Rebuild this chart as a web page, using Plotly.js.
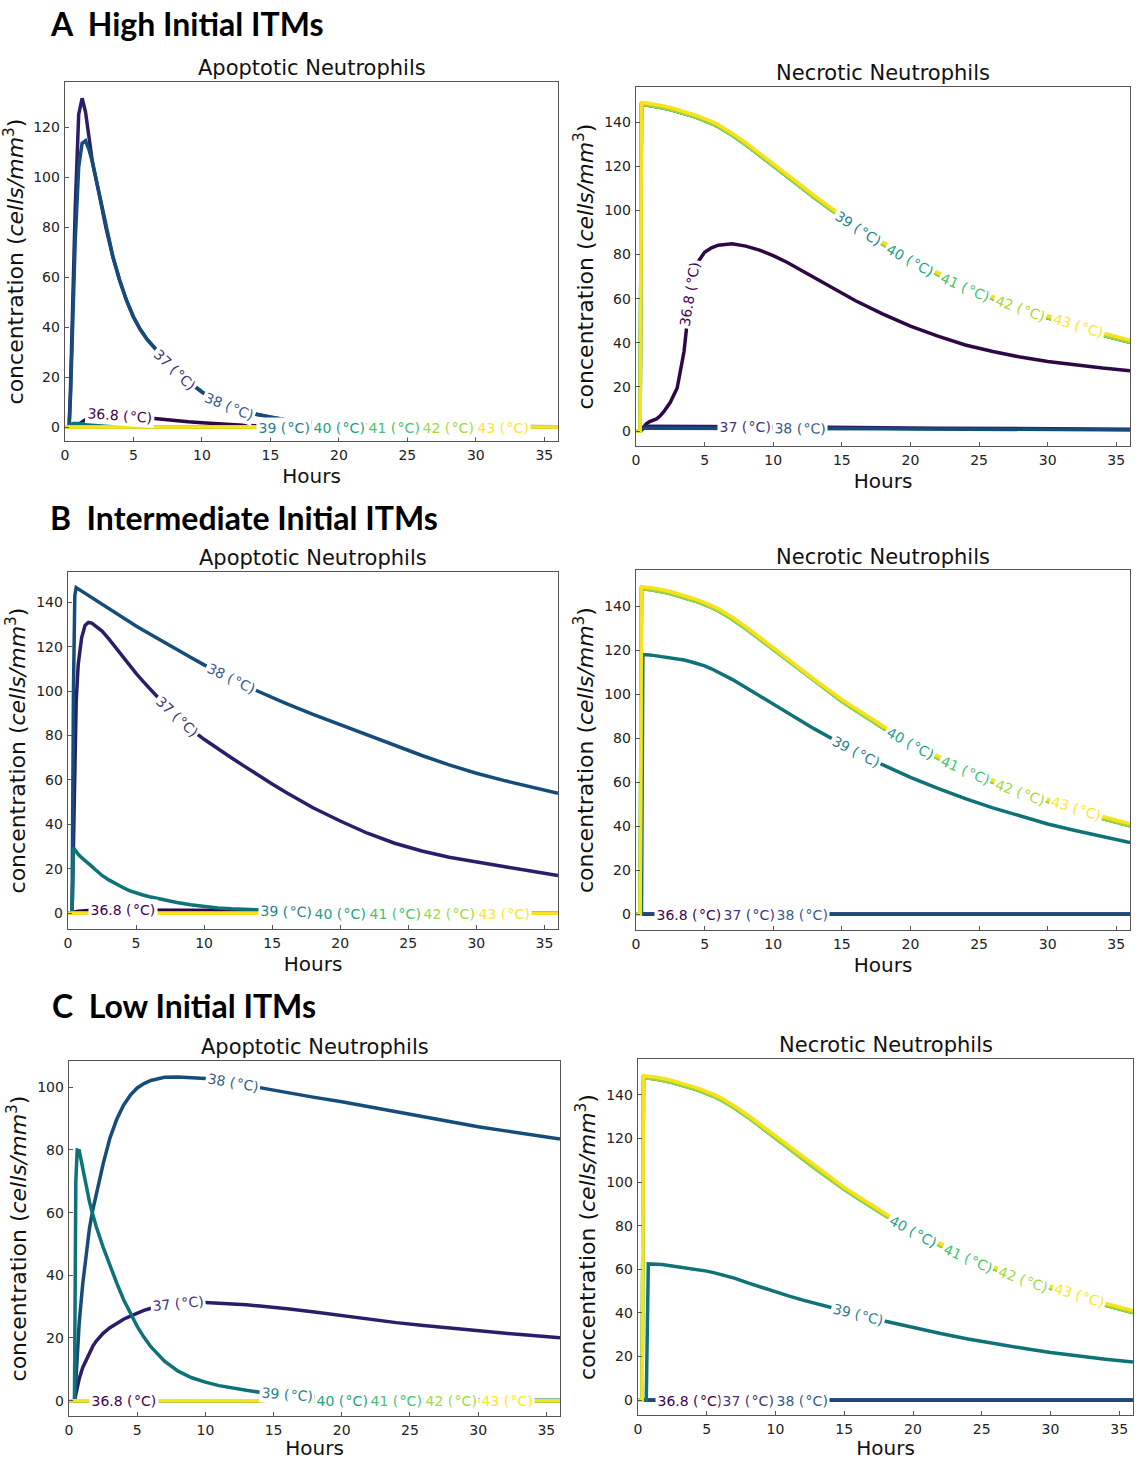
<!DOCTYPE html>
<html>
<head>
<meta charset="utf-8">
<script src="https://cdn.plot.ly/plotly-3.0.1.min.js"></script>
<style>html,body{margin:0;padding:0;background:#fff}</style>
</head>
<body>
<div id="chart" style="width:1141px;height:1460px"></div>
<script>
// ---------------- DATA ----------------
const hours = [0, 0.3, 0.4, 0.5, 0.6, 0.75, 1, 1.25, 1.5, 1.75, 2, 2.5, 3, 3.5, 4, 4.5, 5, 5.5, 6, 7, 8, 9, 10, 11, 12, 13, 14, 15, 16, 18, 20, 22, 24, 26, 28, 30, 32, 34, 36];
const temps = ['36.8', '37', '38', '39', '40', '41', '42', '43'];

const flatZero = [0,0,0,0,0,0,0,0,0,0, 0,0,0,0,0,0,0,0,0, 0,0,0,0,0,0,0,0,0,0, 0,0,0,0,0,0,0,0,0,0];

// A: High initial ITMs - apoptotic
const highApo_368 = [0,0,0,0,0,0.5,1,2,3,3.8, 4.5,5,5,4.9,4.7,4.5,4.2,3.9,3.6, 3.1,2.6,2.1,1.7,1.3,1,0.7,0.5,0.4,0.3, 0.2,0.1,0.1,0.1,0.1,0.1,0.1,0.1,0.1,0.1];
const highApo_37  = [0,0,15,35,55,88,125,131.5,126,116, 106,93,79.5,68,58.5,50.5,44,39,35, 28.8,23.2,18.2,14,10.8,8.3,6.4,5,3.9,3, 1.8,1.1,0.7,0.5,0.3,0.2,0.2,0.1,0.1,0.1];
const highApo_38  = [0,0,12,30,48,75,104,113.5,114.5,111, 106,93,79.5,68,58.5,50.5,44,39,35, 28.8,23.2,18.2,14,10.8,8.3,6.4,5,3.9,3, 1.8,1.1,0.7,0.5,0.3,0.2,0.2,0.1,0.1,0.1];
const highApo_39  = [0,0,1,1.3,1.4,1.4,1.4,1.4,1.4,1.4, 1.4,1.3,1.3,1.2,1.2,0.8,0.4,0.2,0.1, 0,0,0,0,0,0,0,0,0,0, 0,0,0,0,0,0,0,0,0,0];
const highApo_40to43 = flatZero;

// A: High initial ITMs - necrotic
const highNec_368 = [0,0,0.5,1.5,2.3,3.3,4.3,4.8,5.5,6.8, 8.5,13,19.5,36,65,76.5,81,83,84.2, 84.8,83.8,82,79.5,76.5,73,69.5,66,62.5,59, 53,47.5,43,39,36,33.5,31.5,29.8,28.5,27.3];
const highNec_37  = [0,0,0.8,1.6,2,2.1,2.1,2.1,2.1,2.1, 2.1,2.1,2.1,2.1,2.1,2.1,2.1,2.1,2.1, 2,2,2,1.9,1.9,1.8,1.8,1.7,1.7,1.6, 1.5,1.4,1.3,1.2,1.1,1,1,0.9,0.9,0.8];
const highNec_38  = [0,0,0.4,0.9,1.2,1.3,1.3,1.3,1.3,1.3, 1.3,1.3,1.3,1.3,1.3,1.3,1.3,1.3,1.3, 1.3,1.3,1.2,1.2,1.2,1.1,1.1,1.1,1,1, 1,0.9,0.9,0.8,0.8,0.7,0.7,0.6,0.6,0.5];
const highNec_39to42 = [0,0,147.9,147.9,147.8,147.7,147.5,147.3,147.1,146.8, 146.4,145.7,144.9,143.9,142.9,141.9,140.8,139.4,137.9, 134.1,129.8,125.1,120.1,115.3,110.6,105.8,101.1,96.7,92.6, 84.6,77.4,70.9,65.1,60,55.4,51.2,47.2,43.5,40.2];
const highNec_43  = [0,0,148.8,148.8,148.7,148.6,148.4,148.2,148,147.7, 147.3,146.6,145.8,144.8,143.8,142.8,141.7,140.3,138.8, 135,130.7,126,121,116.2,111.5,106.7,102,97.6,93.5, 85.5,78.3,71.8,66,60.9,56.3,52.1,48.1,44.4,41.1];

// B: Intermediate initial ITMs - apoptotic
const midApo_368 = [0,0,0.3,0.6,0.8,0.9,1,1.2,1.3,1.4, 1.5,1.5,1.5,1.5,1.5,1.5,1.5,1.5,1.5, 1.5,1.5,1.5,1.5,1.5,1.5,1.4,1.2,1,0.8, 0.5,0.3,0.2,0.2,0.2,0.2,0.1,0.1,0.1,0.1];
const midApo_37  = [0,0,30,70,95,112,124,129.5,130.9,130.6, 129.5,127,123.5,119.5,115.5,111.7,108,104.5,101, 94.5,88.5,83,78.3,74,70,66,62,58.2,54.5, 47.5,41.5,36,31.5,28,25.2,23,21,19,17];
const midApo_38  = [0,0,100,143,146.6,146,145,144,143,142, 141,139,137,135,133,131,129.3,127.5,125.7, 122.2,118.7,115.2,111.8,108.6,105.5,102.6,99.8,97.1,94.5, 89.5,84.8,80,75.3,71,66.8,63,59.8,56.8,54];
const midApo_39  = [0,0,29.5,28.5,27.5,26.5,25,23.8,22.5,21.1, 19.7,17,15,13.2,11.7,10.2,9,8.2,7.4, 6,4.8,3.8,3,2.4,2,1.7,1.4,1.2,1, 0.7,0.5,0.3,0.2,0.2,0.2,0.1,0.1,0.1,0.1];
const midApo_40to43 = flatZero;

// B: Intermediate initial ITMs - necrotic
const midNec_368to38 = flatZero;
const midNec_39  = [0,0,0,118,118,117.9,117.8,117.6,117.4,117.3, 117.1,116.7,116.2,115.5,114.7,113.8,112.8,111.5,110, 106.7,103,99.2,95.3,91.5,87.8,84.2,80.7,77.3,74, 67.8,62.2,57.2,52.5,48.3,44.5,41,38,35.2,32.5];
const midNec_40to42 = [0,0,147.9,147.9,147.8,147.7,147.5,147.3,147.1,146.8, 146.4,145.7,144.9,143.9,142.9,141.9,140.8,139.4,137.9, 134.1,129.8,125.1,120.1,115.3,110.6,105.8,101.1,96.7,92.6, 84.6,77.4,70.9,65.1,60,55.4,51.2,47.2,43.5,40.2];
const midNec_43  = [0,0,148.8,148.8,148.7,148.6,148.4,148.2,148,147.7, 147.3,146.6,145.8,144.8,143.8,142.8,141.7,140.3,138.8, 135,130.7,126,121,116.2,111.5,106.7,102,97.6,93.5, 85.5,78.3,71.8,66,60.9,56.3,52.1,48.1,44.4,41.1];

// C: Low initial ITMs - apoptotic
const lowApo_368 = flatZero;
const lowApo_37  = [0,0,0,2,4,7,10.5,13,15.5,17.4, 19,21.5,23.3,24.8,26,27,28,28.8,29.5, 30.4,31,31.3,31.3,31.1,30.9,30.6,30.2,29.8,29.3, 28.3,27.1,26,24.9,24,23.1,22.3,21.5,20.8,20.1];
const lowApo_38  = [0,0,0,6,14,25,37,46.5,55,61, 66,75.5,83.8,89.8,94.3,97.5,99.8,101.2,102.2, 103.2,103.3,103.1,102.8,102.2,101.5,100.7,99.9,99.1,98.3, 96.8,95.4,93.9,92.2,90.6,89,87.4,86.1,84.8,83.5];
const lowApo_39  = [0,0,0,70,80,79.8,74.5,68.5,63.5,59.3, 55.5,49,43,37.5,32.3,27.8,23.7,20.2,17.2, 12.6,9.4,7.3,5.9,4.8,4,3.3,2.7,2.3,1.9, 1.3,0.9,0.6,0.4,0.3,0.2,0.1,0.1,0.1,0.1];
const lowApo_40to43 = flatZero;

// C: Low initial ITMs - necrotic
const lowNec_368to38 = flatZero;
const lowNec_39  = [0,0,0,0,0,62.5,62.5,62.4,62.3,62.2, 62,61.6,61.2,60.7,60.2,59.7,59.2,58.5,57.8, 56,53.8,51.7,49.6,47.7,45.9,44.2,42.6,40.9,39.3, 36.2,33.3,30.6,28.1,25.8,23.8,21.9,20.2,18.8,17.5];
const lowNec_40to42 = [0,0,147.9,147.9,147.8,147.7,147.5,147.3,147.1,146.8, 146.4,145.7,144.9,143.9,142.9,141.9,140.8,139.4,137.9, 134.1,129.8,125.1,120.1,115.3,110.6,105.8,101.1,96.7,92.6, 84.6,77.4,70.9,65.1,60,55.4,51.2,47.2,43.5,40.2];
const lowNec_43  = [0,0,148.8,148.8,148.7,148.6,148.4,148.2,148,147.7, 147.3,146.6,145.8,144.8,143.8,142.8,141.7,140.3,138.8, 135,130.7,126,121,116.2,111.5,106.7,102,97.6,93.5, 85.5,78.3,71.8,66,60.9,56.3,52.1,48.1,44.4,41.1];

// inline label positions (hours) for the 8 temperatures, per panel
const highApo_labelX = [4.0, 8.0, 12.0, 16.0, 20.0, 24.0, 28.0, 32.0];
const highNec_labelX = [3.95, 7.95, 11.95, 16.2, 20.0, 24.0, 28.0, 32.2];
const midApo_labelX  = [4.05, 8.0, 12.0, 16.0, 20.0, 24.0, 28.0, 32.0];
const midNec_labelX  = [3.85, 8.2, 12.1, 16.0, 20.0, 24.0, 28.0, 32.1];
const lowApo_labelX  = [4.0, 8.0, 12.0, 16.0, 20.0, 24.0, 28.0, 32.1];
const lowNec_labelX  = [3.75, 8.0, 11.9, 16.0, 20.0, 24.0, 28.0, 32.1];

// ---------------- STYLE / LAYOUT ----------------
const lineColors  = ['#2e0845', '#2c1d6b', '#154c7a', '#0f7276', '#1c9c80', '#45bb66', '#9ad535', '#f9e11e'];
const labelColors = ['#440154', '#46337e', '#365c8d', '#277f8e', '#1fa187', '#4ac16d', '#9fda3a', '#fde725'];

const W = 1141, H = 1460;
const FONT = 'DejaVu Sans, Liberation Sans, sans-serif';

const panels = [
  {title: 'Apoptotic Neutrophils', box: [65, 82, 558, 441],   yr: [-5.6, 138],   titleY: 68,
   series: [highApo_368, highApo_37, highApo_38, highApo_39, highApo_40to43, highApo_40to43, highApo_40to43, highApo_40to43], labelX: highApo_labelX},
  {title: 'Necrotic Neutrophils',  box: [636, 87, 1130, 446], yr: [-6.8, 155.9], titleY: 73,
   series: [highNec_368, highNec_37, highNec_38, highNec_39to42, highNec_39to42, highNec_39to42, highNec_39to42, highNec_43], labelX: highNec_labelX},
  {title: 'Apoptotic Neutrophils', box: [68, 572, 558, 929],  yr: [-7.1, 153.6], titleY: 558,
   series: [midApo_368, midApo_37, midApo_38, midApo_39, midApo_40to43, midApo_40to43, midApo_40to43, midApo_40to43], labelX: midApo_labelX},
  {title: 'Necrotic Neutrophils',  box: [636, 570, 1130, 930], yr: [-7.2, 156.4], titleY: 557,
   series: [midNec_368to38, midNec_368to38, midNec_368to38, midNec_39, midNec_40to42, midNec_40to42, midNec_40to42, midNec_43], labelX: midNec_labelX},
  {title: 'Apoptotic Neutrophils', box: [69, 1061, 560, 1416], yr: [-4.9, 108.4], titleY: 1047,
   series: [lowApo_368, lowApo_37, lowApo_38, lowApo_39, lowApo_40to43, lowApo_40to43, lowApo_40to43, lowApo_40to43], labelX: lowApo_labelX},
  {title: 'Necrotic Neutrophils',  box: [638, 1059, 1133, 1415], yr: [-6.8, 156.5], titleY: 1045,
   series: [lowNec_368to38, lowNec_368to38, lowNec_368to38, lowNec_39, lowNec_40to42, lowNec_40to42, lowNec_40to42, lowNec_43], labelX: lowNec_labelX}
];

function interp(xs, ys, x) {
  if (x <= xs[0]) return ys[0];
  for (let i = 1; i < xs.length; i++) {
    if (x <= xs[i]) {
      const t = (x - xs[i-1]) / (xs[i] - xs[i-1]);
      return ys[i-1] + t * (ys[i] - ys[i-1]);
    }
  }
  return ys[ys.length - 1];
}

const traces = [];
const annotations = [];
const layout = {
  width: W, height: H,
  margin: {l: 0, r: 0, t: 0, b: 0},
  paper_bgcolor: '#fff', plot_bgcolor: '#fff',
  showlegend: false,
  font: {family: FONT, color: '#222'}
};

panels.forEach((p, k) => {
  const s = k === 0 ? '' : String(k + 1);
  const [x0, y0, x1, y1] = p.box;
  const bottomRow = k >= 4;
  const axStyle = {
    showline: true, mirror: true, linecolor: '#555', linewidth: 1.3,
    ticks: 'inside', ticklen: 4, tickwidth: 1, tickcolor: '#555',
    ticklabelstandoff: 1,
    showgrid: false, zeroline: false,
    tickfont: {family: FONT, size: 14, color: '#222'}
  };
  layout['xaxis' + s] = Object.assign({}, axStyle, {
    domain: [x0 / W, x1 / W], range: [0, 36], tick0: 0, dtick: 5,
    anchor: 'y' + s,
    title: {text: 'Hours', font: {family: FONT, size: 20, color: '#111'}, standoff: bottomRow ? 10 : 7}
  });
  layout['yaxis' + s] = Object.assign({}, axStyle, {
    domain: [1 - y1 / H, 1 - y0 / H], range: p.yr, tick0: 0, dtick: 20,
    anchor: 'x' + s,
    title: {text: 'concentration (<i>cells/mm</i><sup>3</sup>)', font: {family: FONT, size: 22, color: '#111'}, standoff: 4}
  });

  // subplot title
  annotations.push({
    xref: 'paper', yref: 'paper', x: ((x0 + x1) / 2) / W, y: 1 - p.titleY / H,
    xanchor: 'center', yanchor: 'middle', showarrow: false,
    text: p.title, font: {family: FONT, size: 21, color: '#111'}
  });

  const pxPerX = (x1 - x0) / 36;
  const pxPerY = (y1 - y0) / (p.yr[1] - p.yr[0]);

  p.series.forEach((ys, i) => {
    traces.push({
      type: 'scatter', mode: 'lines', x: hours, y: ys,
      xaxis: 'x' + s, yaxis: 'y' + s,
      line: {color: lineColors[i], width: 3.5, shape: 'linear'},
      hoverinfo: 'skip', showlegend: false
    });
  });

  p.series.forEach((ys, i) => {
    const lx = p.labelX[i];
    const ly = interp(hours, ys, lx);
    const h = 0.6;
    const slope = (interp(hours, ys, lx + h) - interp(hours, ys, lx - h)) / (2 * h);
    const ang = -Math.atan(slope * pxPerY / pxPerX) * 180 / Math.PI;
    annotations.push({
      xref: 'x' + s, yref: 'y' + s, x: lx, y: ly,
      text: temps[i] + ' (\u200a°C)', textangle: ang,
      font: {family: FONT, size: 14, color: labelColors[i]},
      bgcolor: '#ffffff', borderpad: 1.5, showarrow: false,
      xanchor: 'center', yanchor: 'middle'
    });
  });
});

// section headers
const headers = [
  {text: '<b>A  High Initial ITMs</b>', x: 48, y: 23},
  {text: '<b>B  Intermediate Initial ITMs</b>', x: 48, y: 517},
  {text: '<b>C  Low Initial ITMs</b>', x: 50, y: 1005}
];
headers.forEach(hd => {
  annotations.push({
    xref: 'paper', yref: 'paper', x: hd.x / W, y: 1 - hd.y / H,
    xanchor: 'left', yanchor: 'middle', showarrow: false,
    text: hd.text, font: {family: 'Lato, Open Sans, sans-serif', size: 32, color: '#000'}
  });
});

layout.annotations = annotations;

Plotly.newPlot('chart', traces, layout, {staticPlot: true, displayModeBar: false});
</script>
</body>
</html>
